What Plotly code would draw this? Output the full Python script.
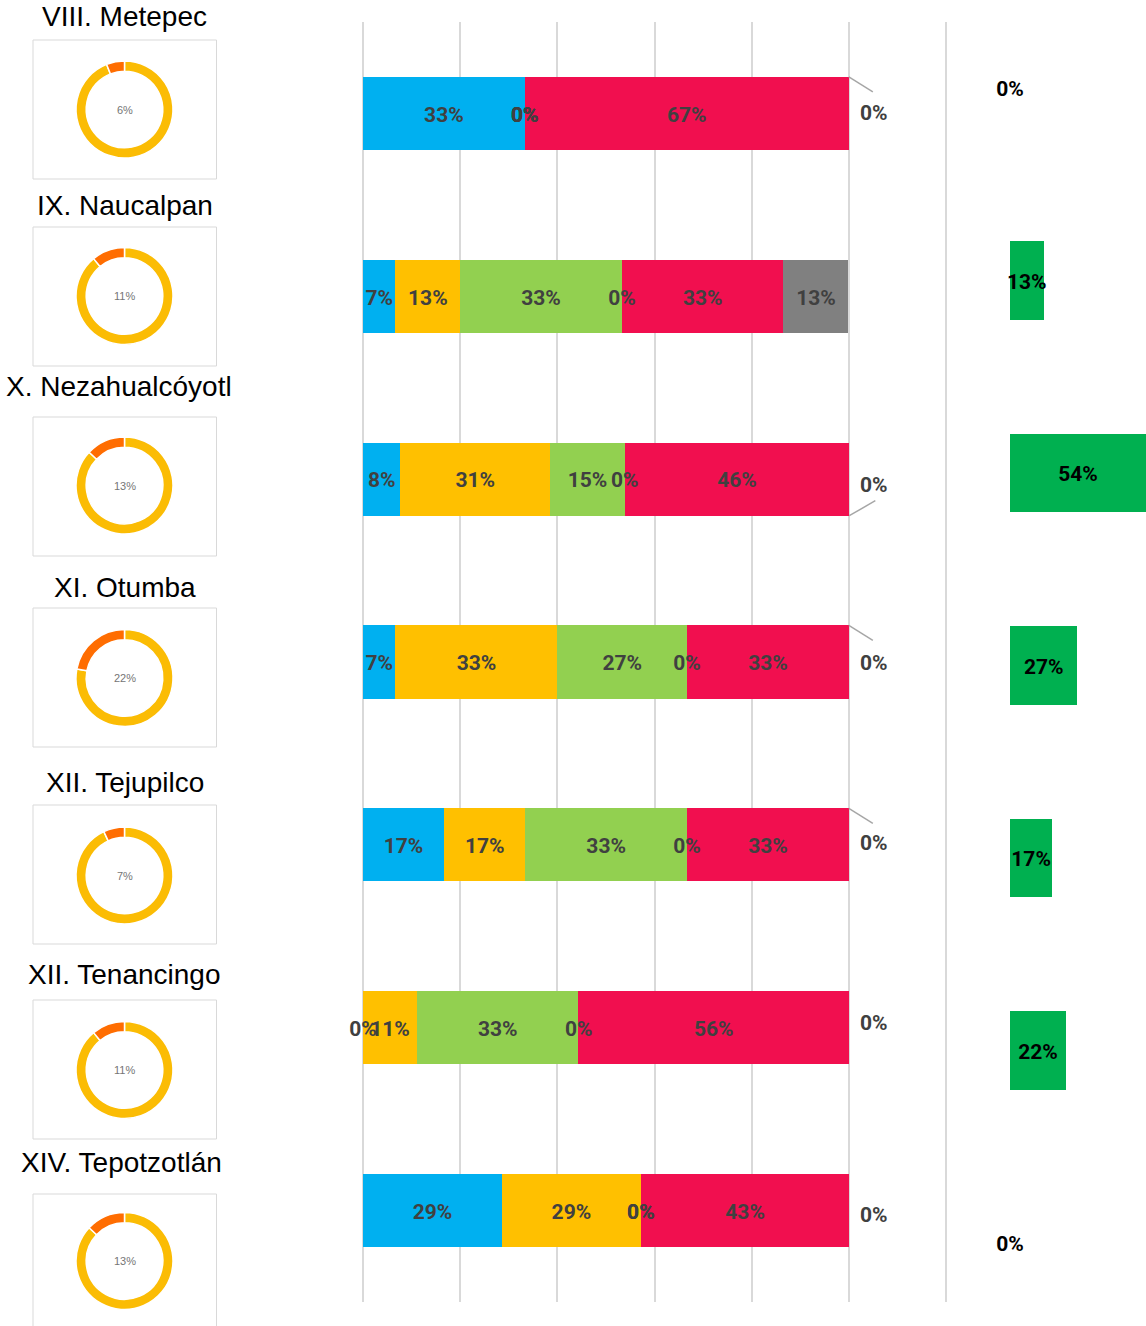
import plotly.graph_objects as go

W, H = 1146, 1326

# ---------------- data ----------------
regions = ["VIII. Metepec", "IX. Naucalpan", "X. Nezahualcóyotl", "XI. Otumba",
           "XII. Tejupilco", "XII. Tenancingo", "XIV. Tepotzotlán"]
donut_pct = [6, 11, 13, 22, 7, 11, 13]

blue   = [33.3, 6.7, 7.7, 6.7, 16.7, 0.0, 28.6]
yellow = [0.0, 13.3, 30.8, 33.3, 16.7, 11.1, 28.6]
lgreen = [0.0, 33.3, 15.4, 26.7, 33.3, 33.3, 0.0]
other  = [0.0, 0.0, 0.0, 0.0, 0.0, 0.0, 0.0]
red    = [66.7, 33.3, 46.2, 33.3, 33.3, 55.6, 42.9]
grey   = [0.0, 13.3, 0.0, 0.0, 0.0, 0.0, 0.0]
green_right = [0.0, 13.3, 53.8, 26.7, 16.7, 22.2, 0.0]

# ---------------- layout helpers (positions / styles) ----------------
panel_top = [40, 227, 417, 608, 805, 1000, 1194]
title_y = [17, 205, 386, 587, 782, 974, 1162]
title_x = [124.5, 124.5, 118.5, 124.5, 124.5, 124.5, 121.5]
donut_cy = [109.5, 296, 485.5, 678, 875.5, 1070, 1261]
donut_cx = 124.5
donut_r = 48.5
grey_label_dy = [-2, 0, 4, -1, -4, -7, 2]
leader_dir = ["top", None, "bottom", "top", "top", None, None]

series = [
    (blue, "#00B0F0"),
    (yellow, "#FFC000"),
    (lgreen, "#92D050"),
    (other, "#00B050"),
    (red, "#F10F4F"),
]
grey_color = "#808080"
label_font = dict(family="Roboto", size=21, color="#404040", weight="bold")

def px2x(px):
    return px / W

def px2y(py):
    return 1 - py / H

fig = go.Figure()
rows = list(range(len(regions)))

# main axis geometry
x0_px, x12_px = 363.0, 946.0
pxu = (x12_px - x0_px) / 1.2
xr = [-0.02, 1.22]
main_dom = [(x0_px + xr[0] * pxu) / W, (x0_px + xr[1] * pxu) / W]
y_top_px, y_bot_px = 22, 1302
pyu = (y_bot_px - y_top_px) / 7.0
text_dy = 3 / pyu  # small downward nudge so labels sit at bar centre

# stacked bars
for vals, col in series + [(grey, grey_color)]:
    fig.add_trace(go.Bar(
        x=[v / 100 for v in vals], y=rows, orientation="h",
        marker=dict(color=col, line=dict(width=0)), width=0.4,
        xaxis="x", yaxis="y", hoverinfo="skip", showlegend=False))

# labels for the stacked bars
lx, ly, lt = [], [], []
annotations = []
shapes = []
for i in rows:
    cum = 0.0
    for vals, _ in series:
        v = vals[i] / 100
        lx.append(cum + v / 2)
        ly.append(i + text_dy)
        lt.append(f"{vals[i]:.0f}%")
        cum += v
    g = grey[i] / 100
    if g > 0:
        lx.append(cum + g / 2)
        ly.append(i + text_dy)
        lt.append(f"{grey[i]:.0f}%")
    else:
        annotations.append(dict(
            x=cum + g, y=i, xref="x", yref="y", text=f"{grey[i]:.0f}%",
            showarrow=False, xanchor="center", yanchor="middle",
            xshift=25, yshift=-grey_label_dy[i] - 2, font=label_font))
        d = leader_dir[i]
        if d == "top":
            shapes.append(dict(type="line", xref="x", yref="y",
                               x0=cum, y0=i - 0.2,
                               x1=cum + 24 / pxu, y1=i - 0.2 + 15 / pyu,
                               line=dict(color="#A6A6A6", width=1.5)))
        elif d == "bottom":
            shapes.append(dict(type="line", xref="x", yref="y",
                               x0=cum, y0=i + 0.2,
                               x1=cum + 26 / pxu, y1=i + 0.2 - 15 / pyu,
                               line=dict(color="#A6A6A6", width=1.5)))

fig.add_trace(go.Scatter(
    x=lx, y=ly, text=lt, mode="text", textposition="middle center",
    textfont=label_font, xaxis="x", yaxis="y", cliponaxis=False,
    hoverinfo="skip", showlegend=False))

# right green bars
g_pyu = 192.5
fig.add_trace(go.Bar(
    x=[v / 100 for v in green_right], y=rows, orientation="h",
    marker=dict(color="#00B050", line=dict(width=0)), width=0.41,
    xaxis="x2", yaxis="y2", hoverinfo="skip", showlegend=False))
fig.add_trace(go.Scatter(
    x=[v / 200 for v in green_right], y=[r + 3 / g_pyu for r in rows],
    text=[f"{v:.0f}%" for v in green_right], mode="text",
    textposition="middle center",
    textfont=dict(family="Roboto", size=21, color="#000000", weight="bold"),
    xaxis="x2", yaxis="y2", cliponaxis=False, hoverinfo="skip",
    showlegend=False))

# donuts, panels and titles
for i in rows:
    cy = donut_cy[i]
    # yellow first (clockwise from 12 o'clock) so the orange share ends at 12,
    # sitting just to the left of the top, as in the reference
    fig.add_trace(go.Pie(
        values=[100 - donut_pct[i], donut_pct[i]],
        marker=dict(colors=["#FBBC04", "#FF6D01"],
                    line=dict(color="white", width=1.5)),
        hole=0.79, sort=False, direction="clockwise", rotation=0,
        textinfo="none", hoverinfo="skip", showlegend=False,
        domain=dict(x=[px2x(donut_cx - donut_r), px2x(donut_cx + donut_r)],
                    y=[px2y(cy + donut_r), px2y(cy - donut_r)])))
    annotations.append(dict(
        x=px2x(donut_cx), y=px2y(cy), xref="paper", yref="paper",
        text=f"{donut_pct[i]}%", showarrow=False, xanchor="center",
        yanchor="middle",
        font=dict(family="Liberation Sans", size=11, color="#757575")))
    annotations.append(dict(
        x=px2x(title_x[i]), y=px2y(title_y[i]), xref="paper", yref="paper",
        text=regions[i], showarrow=False, xanchor="center", yanchor="middle",
        font=dict(family="Liberation Sans", size=28, color="#000000")))
    shapes.append(dict(
        type="rect", xref="paper", yref="paper",
        x0=px2x(33), x1=px2x(216.5),
        y0=px2y(panel_top[i] + 139), y1=px2y(panel_top[i]),
        line=dict(color="#D9D9D9", width=1), fillcolor="rgba(0,0,0,0)",
        layer="below"))

grid_vals = [0, 0.2, 0.4, 0.6, 0.8, 1.0, 1.2]

fig.update_layout(
    width=W, height=H,
    margin=dict(l=0, r=0, t=0, b=0, pad=0),
    paper_bgcolor="white", plot_bgcolor="rgba(0,0,0,0)",
    barmode="stack", bargap=0, showlegend=False,
    xaxis=dict(domain=main_dom, range=xr, tickvals=grid_vals,
               showticklabels=False, ticks="", showgrid=True,
               gridcolor="#D9D9D9", gridwidth=2, zeroline=False,
               showline=False, fixedrange=True),
    yaxis=dict(domain=[px2y(y_bot_px), px2y(y_top_px)], range=[6.5, -0.5],
               showgrid=False, showticklabels=False, zeroline=False,
               showline=False, ticks="", fixedrange=True),
    xaxis2=dict(domain=[px2x(1010), 1], range=[0, 0.538], anchor="y2",
                visible=False, showgrid=False, zeroline=False),
    yaxis2=dict(domain=[0, 1], range=[(H - 88) / g_pyu, -88 / g_pyu],
                anchor="x2", visible=False, showgrid=False, zeroline=False),
    annotations=annotations,
    shapes=shapes,
)

fig.write_html("out.html",
               config={"displayModeBar": False},
               post_script="document.body.style.margin='0';document.documentElement.style.overflow='hidden';")
